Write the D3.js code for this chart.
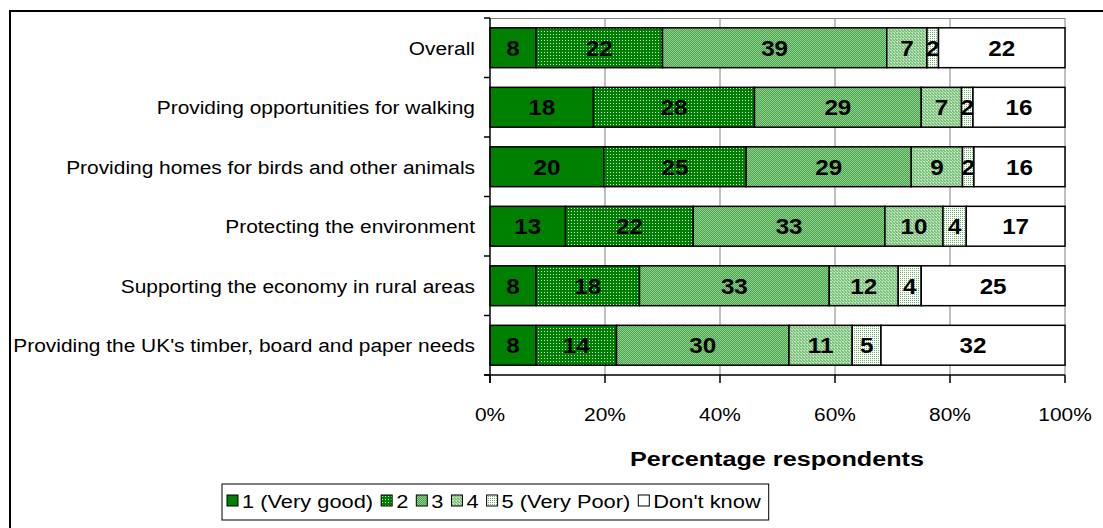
<!DOCTYPE html>
<html><head><meta charset="utf-8">
<script src="https://cdn.jsdelivr.net/npm/d3@7"></script>
<style>
body{margin:0;background:#fff;}
text{font-family:"Liberation Sans",Arial,sans-serif;fill:#000;}
</style></head><body>
<svg id="c" width="1103" height="528"></svg>
<script>
const categories = ["Overall","Providing opportunities for walking","Providing homes for birds and other animals","Protecting the environment","Supporting the economy in rural areas","Providing the UK's timber, board and paper needs"];
const seriesNames = ["1 (Very good)","2","3","4","5 (Very Poor)","Don't know"];
const v1 = [8,18,20,13,8,8];
const v2 = [22,28,25,22,18,14];
const v3 = [39,29,29,33,33,30];
const v4 = [7,7,9,10,12,11];
const v5 = [2,2,2,4,4,5];
const vDK = [22,16,16,17,25,32];
const xTicks = [0,0.2,0.4,0.6,0.8,1];
const xTitle = "Percentage respondents";

const svg = d3.select("#c");
const SX = 1.1;
const defs = svg.append("defs");
function pat(id, w, h, bg, dots, dc){
  const p = defs.append("pattern").attr("id",id).attr("width",w).attr("height",h).attr("patternUnits","userSpaceOnUse");
  p.append("rect").attr("width",w).attr("height",h).attr("fill",bg);
  dots.forEach(d=>p.append("rect").attr("x",d[0]).attr("y",d[1]).attr("width",1).attr("height",1).attr("fill",dc));
}
pat("p2",3,3,"#008000",[[1,1]],"#d8f0d8");
pat("p3",2,2,"#46a546",[[0,0],[1,1]],"#94d094");
pat("p4",3,3,"#78c078",[[0,0],[1,1],[2,2],[0,2]],"#c0e4c0");
pat("p5",2,2,"#ffffff",[[0,0]],"#6cb46c");
const fills = ["#008000","url(#p2)","url(#p3)","url(#p4)","url(#p5)","#ffffff"];

// outer frame
svg.append("rect").attr("x",10).attr("y",11).attr("width",1100).attr("height",530)
  .attr("fill","none").attr("stroke","#000").attr("stroke-width",2);

const x = d3.scaleLinear().domain([0,1]).range([490,1065]);
const y = d3.scaleBand().domain(categories).range([18,375]).paddingInner(0.33).paddingOuter(0.165);

// gridlines
svg.append("g").selectAll("line").data(xTicks.slice(1)).join("line")
  .attr("x1",d=>x(d)).attr("x2",d=>x(d)).attr("y1",18).attr("y2",375)
  .attr("stroke","#808080").attr("stroke-width",1);
svg.append("line").attr("x1",490).attr("x2",1065).attr("y1",18.5).attr("y2",18.5).attr("stroke","#808080");

const rows = categories.map((c,i)=>({cat:c, s0:v1[i], s1:v2[i], s2:v3[i], s3:v4[i], s4:v5[i], s5:vDK[i]}));
const keys = ["s0","s1","s2","s3","s4","s5"];
const stack = d3.stack().keys(keys).offset(d3.stackOffsetExpand)(rows);

const g = svg.append("g");
stack.forEach((layer,li)=>{
  layer.forEach(seg=>{
    const x0=x(seg[0]), x1=x(seg[1]);
    g.append("rect").attr("x",x0).attr("y",y(seg.data.cat)).attr("width",x1-x0).attr("height",y.bandwidth())
      .attr("fill",fills[li]).attr("stroke","#000").attr("stroke-width",1.5);
  });
});
stack.forEach((layer,li)=>{
  layer.forEach(seg=>{
    const cx=(x(seg[0])+x(seg[1]))/2, cy=y(seg.data.cat)+y.bandwidth()/2;
    g.append("text").attr("transform",`translate(${cx},${cy+8}) scale(1.1,1)`)
      .attr("text-anchor","middle").attr("font-weight","bold").attr("font-size",22)
      .text(seg.data[keys[li]]);
  });
});

// y axis
svg.append("line").attr("x1",490).attr("x2",490).attr("y1",18).attr("y2",383).attr("stroke","#000").attr("stroke-width",1.5);
const bounds = d3.range(categories.length+1).map(i=>18+i*y.step());
svg.append("g").selectAll("line").data(bounds).join("line")
  .attr("x1",484).attr("x2",490).attr("y1",d=>d).attr("y2",d=>d).attr("stroke","#000").attr("stroke-width",1.5);
svg.append("g").selectAll("text").data(categories).join("text")
  .attr("transform",d=>`translate(475,${y(d)+y.bandwidth()/2+7}) scale(${SX},1)`)
  .attr("text-anchor","end").attr("font-size",19).text(d=>d);

// x axis
svg.append("line").attr("x1",484).attr("x2",1065).attr("y1",375).attr("y2",375).attr("stroke","#000").attr("stroke-width",1.5);
svg.append("g").selectAll("line").data(xTicks).join("line")
  .attr("x1",d=>x(d)).attr("x2",d=>x(d)).attr("y1",375).attr("y2",383).attr("stroke","#000").attr("stroke-width",1.5);
const fmt = d3.format(".0%");
svg.append("g").selectAll("text").data(xTicks).join("text")
  .attr("transform",d=>`translate(${x(d)},${421}) scale(${SX},1)`)
  .attr("text-anchor","middle").attr("font-size",19).text(d=>fmt(d));
svg.append("text").attr("transform",`translate(777,466) scale(1.2,1)`)
  .attr("text-anchor","middle").attr("font-weight","bold").attr("font-size",21).text(xTitle);

// legend
const lg = svg.append("g");
let lx = 227;
seriesNames.forEach((n,i)=>{
  lg.append("rect").attr("x",lx).attr("y",495).attr("width",11).attr("height",11)
    .attr("fill",fills[i]).attr("stroke","#000").attr("stroke-width",1);
  const t = lg.append("text").attr("transform",`translate(${lx+15},508) scale(1.15,1)`)
    .attr("font-size",19).text(n);
  lx = lx + 15 + t.node().getComputedTextLength()*1.15 + 8;
});
svg.insert("rect","g:last-of-type").attr("x",222).attr("y",484).attr("width",lx-222).attr("height",36)
  .attr("fill","#fff").attr("stroke","#000").attr("stroke-width",1);
</script></body></html>
